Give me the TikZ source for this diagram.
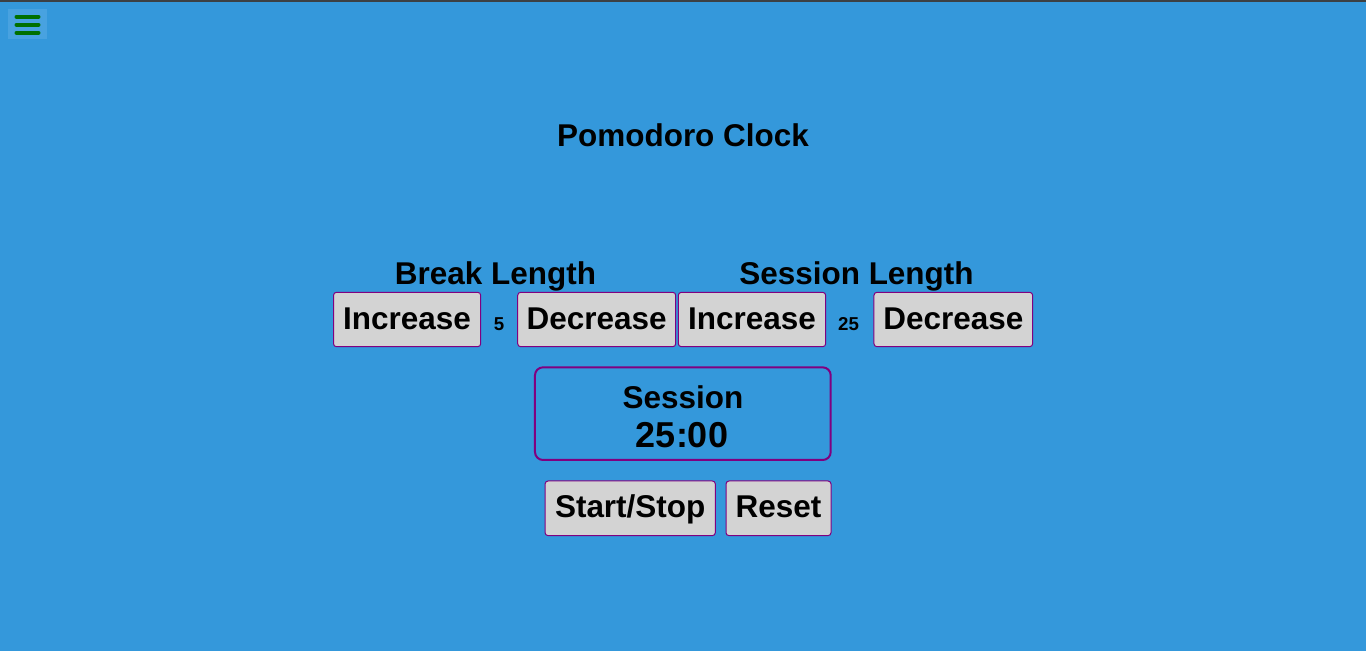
\documentclass[tikz,border=0pt]{standalone}
\usepackage{fontspec}
\setmainfont{Liberation Sans}[BoldFont={Liberation Sans Bold}]
\definecolor{bg}{RGB}{52,152,219}
\definecolor{topbar}{RGB}{60,64,68}
\definecolor{menubox}{RGB}{72,162,224}
\definecolor{menuline}{RGB}{0,112,0}
\definecolor{btnfill}{RGB}{211,211,211}
\definecolor{btnborder}{RGB}{128,0,128}
\newcommand{\bigfont}{\fontsize{23.6}{28}\selectfont\bfseries}
\newcommand{\numfont}{\fontsize{14}{16}\selectfont\bfseries}
\newcommand{\timefont}{\fontsize{27}{32}\selectfont\bfseries}
\begin{document}
\begin{tikzpicture}[x=0.75pt,y=-0.75pt,
  btn/.style={draw=btnborder, fill=btnfill, line width=0.75pt, rounded corners=2.25pt,
    inner sep=0pt, text height=14.25pt, text depth=0pt, minimum height=40.8pt, font=\bigfont},
  lbl/.style={inner sep=0pt, anchor=base, font=\bigfont},
  num/.style={inner sep=0pt, anchor=base, font=\numfont},
  menubar/.style={draw=menuline, line width=3pt, line cap=round}]
\useasboundingbox (0,0) rectangle (1366,651);
\fill[bg] (0,0) rectangle (1366,651);
\fill[topbar] (0,0) rectangle (1366,1.6);
% menu icon
\node[fill=menubox, minimum width=29.25pt, minimum height=22.5pt, inner sep=0pt] (menu) at (27.5,24) {};
\draw[menubar] (16.5,16.7) -- (38.5,16.7);
\draw[menubar] (16.5,24.7) -- (38.5,24.7);
\draw[menubar] (16.5,32.7) -- (38.5,32.7);
% title
\node[lbl] (title) at (683,146) {Pomodoro Clock};
% headers
\node[lbl] (breakhdr) at (495.5,284) {Break Length};
\node[lbl] (sesshdr) at (856.5,284) {Session Length};
% buttons row
\node[btn, minimum width=110.4pt] (binc) at (407.1,319.5) {Increase};
\node[num] (bval) at (499,330) {5};
\node[btn, minimum width=118.5pt] (bdec) at (596.7,319.5) {Decrease};
\node[btn, minimum width=110.5pt] (sinc) at (752,319.5) {Increase};
\node[num] (sval) at (848.5,330) {25};
\node[btn, minimum width=119pt] (sdec) at (953.3,319.5) {Decrease};
% session display
\node[draw=btnborder, line width=1.5pt, rounded corners=6pt, minimum width=221.8pt,
  minimum height=69.5pt, inner sep=0pt] (display) at (682.85,413.65) {};
\node[lbl] (sesslbl) at (683,408) {Session};
\node[lbl, font=\timefont] (time) at (682,447) {25:00};
% controls
\node[btn, minimum width=127.7pt, minimum height=41pt] (start) at (630.2,508.3) {Start/Stop};
\node[btn, minimum width=78.75pt, minimum height=41pt] (reset) at (778.5,508.3) {Reset};
\end{tikzpicture}
\end{document}
